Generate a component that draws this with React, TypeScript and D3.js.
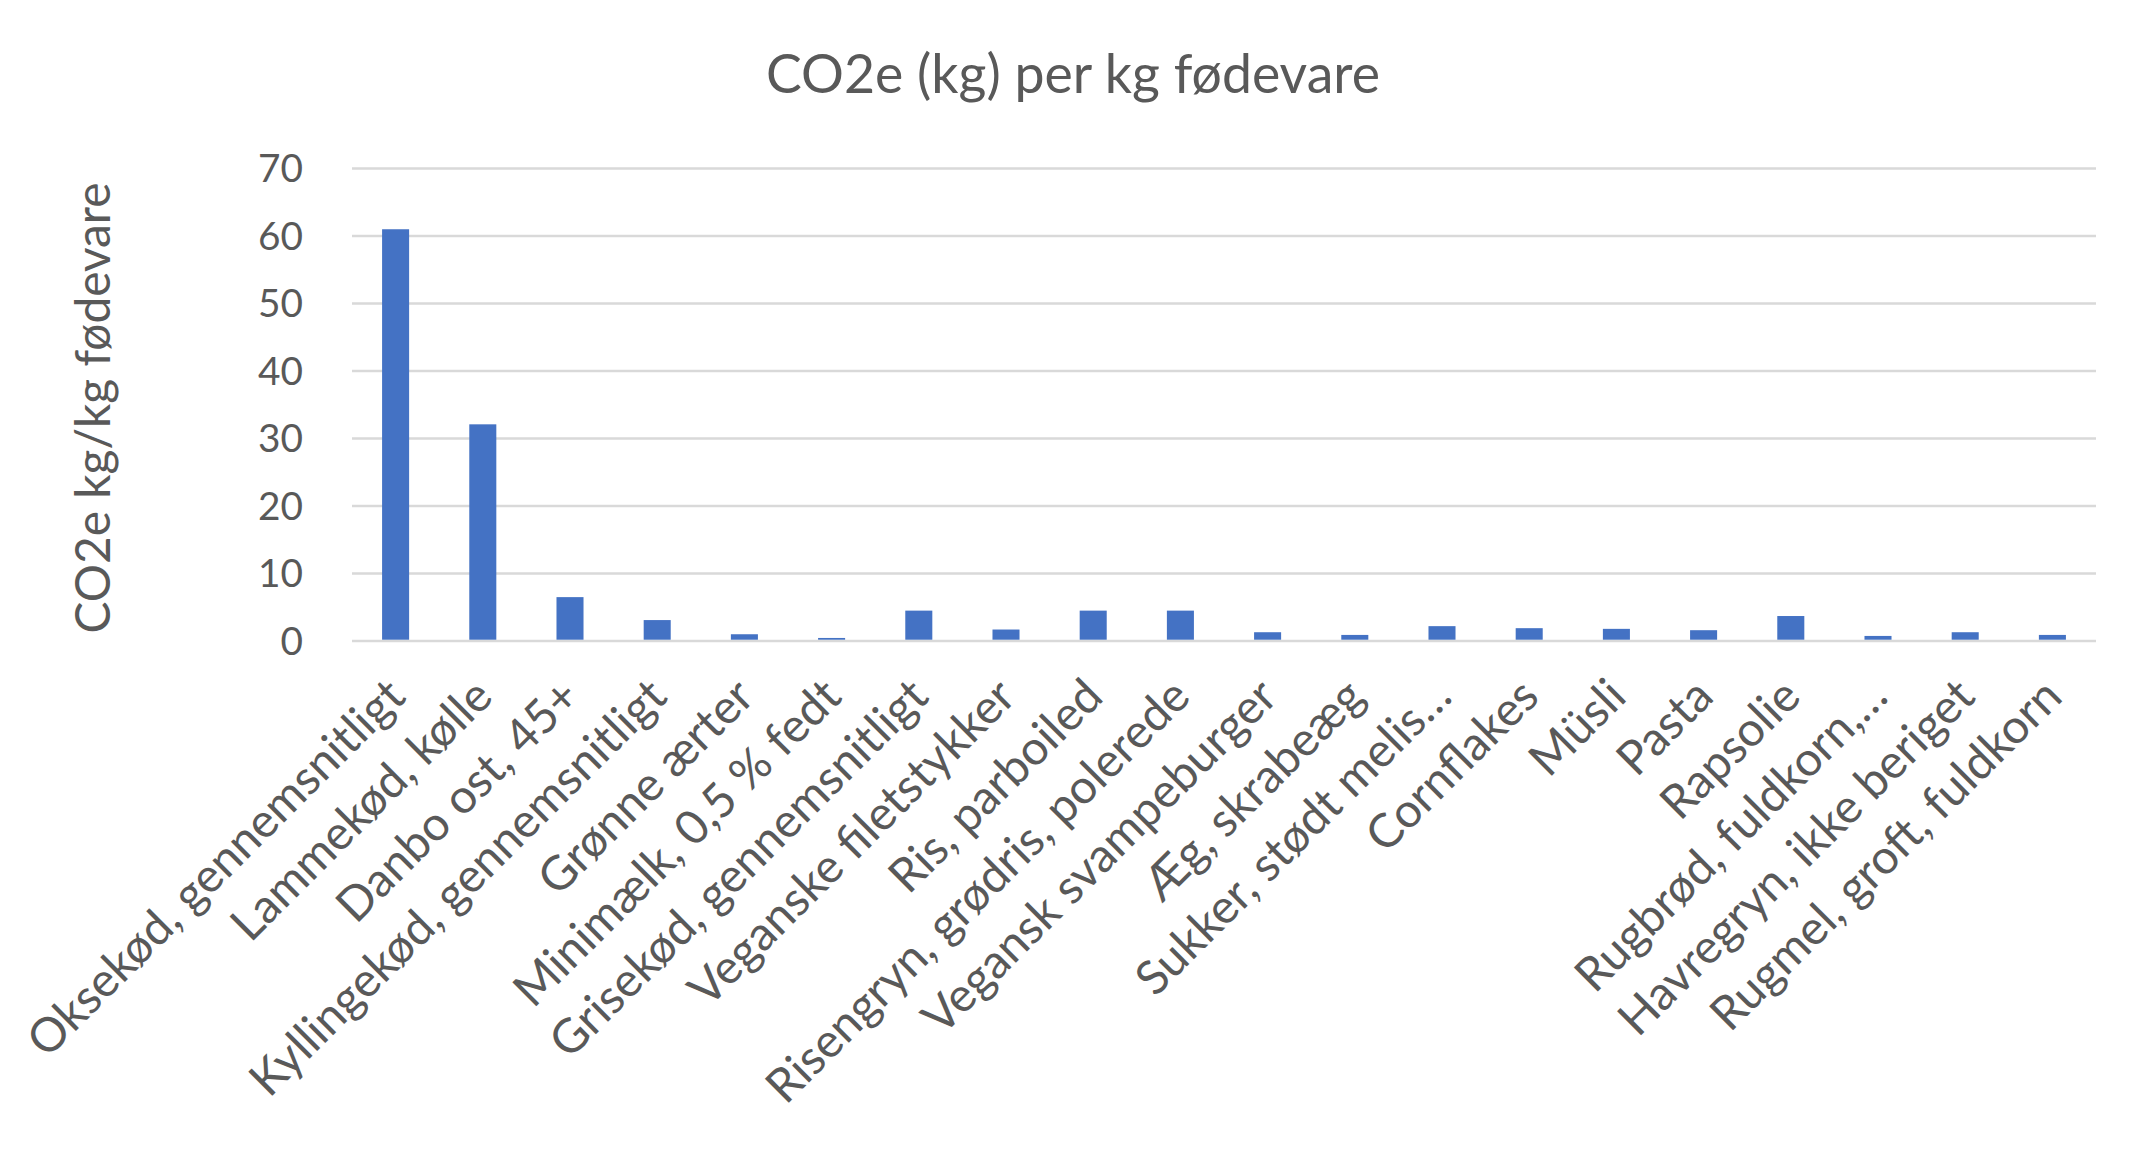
import React, { useEffect, useRef } from "react";
import * as d3 from "d3";

const categories: string[] = [
  "Oksekød, gennemsnitligt",
  "Lammekød, kølle",
  "Danbo ost, 45+",
  "Kyllingekød, gennemsnitligt",
  "Grønne ærter",
  "Minimælk, 0,5 % fedt",
  "Grisekød, gennemsnitligt",
  "Veganske filetstykker",
  "Ris, parboiled",
  "Risengryn, grødris, polerede",
  "Vegansk svampeburger",
  "Æg, skrabeæg",
  "Sukker, stødt melis…",
  "Cornflakes",
  "Müsli",
  "Pasta",
  "Rapsolie",
  "Rugbrød, fuldkorn,…",
  "Havregryn, ikke beriget",
  "Rugmel, groft, fuldkorn",
];

const values: number[] = [
  61, 32.1, 6.5, 3.1, 1.0, 0.45, 4.5, 1.7, 4.5, 4.5, 1.3, 0.9, 2.2, 1.9, 1.8,
  1.6, 3.7, 0.75, 1.3, 0.9,
];

const yTicks: number[] = [0, 10, 20, 30, 40, 50, 60, 70];

const titleText = "CO2e (kg) per kg fødevare";
const yTitleText = "CO2e kg/kg fødevare";

const W = 2148;
const H = 1149;
const FONT = "Lato, 'Open Sans', sans-serif";
const WEIGHT = 400;
const TEXT = "#595959";
const GRID = "#d9d9d9";
const BAR = "#4472c4";

export default function App() {
  const ref = useRef<SVGSVGElement | null>(null);

  useEffect(() => {
    const svg = d3.select(ref.current);
    svg.selectAll("*").remove();

    const left = 352;
    const right = 2096;
    const top = 168.5;
    const bottom = 641;

    const x = d3
      .scaleBand<string>()
      .domain(categories)
      .range([left, right])
      .paddingInner(0.69)
      .paddingOuter(0.345);
    const y = d3.scaleLinear().domain([0, 70]).range([bottom, top]);

    const fit = (sel: any, target: number, base: number) => {
      const node = sel.node() as SVGTextElement;
      const len = node.getComputedTextLength();
      if (len > 0) sel.attr("font-size", (base * target) / len);
    };

    // gridlines
    svg
      .append("g")
      .selectAll("line")
      .data(yTicks)
      .join("line")
      .attr("x1", left)
      .attr("x2", right)
      .attr("y1", (d) => y(d))
      .attr("y2", (d) => y(d))
      .attr("stroke", GRID)
      .attr("stroke-width", 2.6);

    // bars
    svg
      .append("g")
      .selectAll("rect")
      .data(values)
      .join("rect")
      .attr("x", (_d, i) => x(categories[i])!)
      .attr("width", x.bandwidth())
      .attr("y", (d) => y(d))
      .attr("height", (d) => y(0) - y(d) - 1.3)
      .attr("fill", BAR);

    // y tick labels
    const tl = svg
      .append("g")
      .selectAll("text")
      .data(yTicks)
      .join("text")
      .attr("x", 303)
      .attr("y", (d) => y(d))
      .attr("dy", "0.36em")
      .attr("text-anchor", "end")
      .attr("fill", TEXT)
      .attr("font-family", FONT)
      .attr("font-weight", WEIGHT)
      .attr("font-size", 44)
      .text((d) => String(d));
    {
      const node = tl.filter((d) => d === 70).node() as SVGTextElement;
      const len = node.getComputedTextLength();
      if (len > 0) tl.attr("font-size", (44 * 45) / len);
    }

    // x labels
    const xl = svg
      .append("g")
      .selectAll("text")
      .data(categories)
      .join("text")
      .attr(
        "transform",
        (d) => `translate(${x(d)! + x.bandwidth() / 2 + 2},${689}) rotate(-45)`
      )
      .attr("dy", "0.3em")
      .attr("text-anchor", "end")
      .attr("fill", TEXT)
      .attr("font-family", FONT)
      .attr("font-weight", WEIGHT)
      .attr("font-size", 50)
      .text((d) => d);
    {
      const node = xl.filter((_d, i) => i === 0).node() as SVGTextElement;
      const len = node.getComputedTextLength();
      if (len > 0) xl.attr("font-size", (50 * 510) / len);
    }

    // title
    const title = svg
      .append("text")
      .attr("x", 1073)
      .attr("y", 93)
      .attr("text-anchor", "middle")
      .attr("fill", TEXT)
      .attr("font-family", FONT)
      .attr("font-weight", WEIGHT)
      .attr("font-size", 56)
      .text(titleText);
    fit(title, 614, 56);

    // y title
    const yt = svg
      .append("text")
      .attr("transform", `translate(110,408) rotate(-90)`)
      .attr("text-anchor", "middle")
      .attr("fill", TEXT)
      .attr("font-family", FONT)
      .attr("font-weight", WEIGHT)
      .attr("font-size", 52)
      .text(yTitleText);
    fit(yt, 451, 52);
  }, []);

  return (
    <svg
      ref={ref}
      width={W}
      height={H}
      viewBox={`0 0 ${W} ${H}`}
      style={{ position: "absolute", left: 0, top: 0, background: "#fff", display: "block" }}
    />
  );
}
